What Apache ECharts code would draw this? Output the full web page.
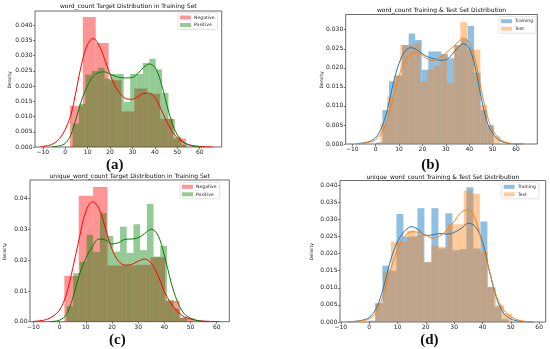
<!DOCTYPE html>
<html><head><meta charset="utf-8">
<script src="https://cdn.jsdelivr.net/npm/echarts@6/dist/echarts.min.js"></script>
<style>html,body{margin:0;padding:0;background:#fff}#c{width:550px;height:349px}</style>
</head><body><div id="c"></div>
<script>
// ---------- tick labels ----------
const xTicks = [-10, 0, 10, 20, 30, 40, 50, 60];
const yTicks3 = [0, 0.005, 0.010, 0.015, 0.020, 0.025, 0.030, 0.035, 0.040];
const yTicksB = [0, 0.005, 0.010, 0.015, 0.020, 0.025, 0.030];
const yTicksC = [0, 0.01, 0.02, 0.03, 0.04];

// ---------- titles ----------
const titleA = 'word_count Target Distribution in Training Set';
const titleB = 'word_count Training & Test Set Distribution';
const titleC = 'unique_word_count Target Distribution in Training Set';
const titleD = 'unique_word_count Training & Test Set Distribution';
const captions = ['(a)', '(b)', '(c)', '(d)'];

// ---------- panel (a): histograms (bin start, bin width, heights) ----------
const negStartA = 2.1, negWidthA = 5.75;
const negHistA = [0.0135, 0.0427, 0.0342, 0.0219, 0.0117, 0.0192, 0.0175, 0.0093, 0.0028];
const posStartA = 3.3, posWidthA = 2.85;
const posHistA = [0.0077, 0.0142, 0.0238, 0.0250, 0.0260, 0.0225, 0.0240, 0.0240, 0.0148, 0.0240, 0.0240, 0.0276, 0.0290, 0.0255, 0.0178, 0.0092, 0.0033, 0.0008];
// panel (a): KDE curves
const negKdeXA = [-11, -7.5, -5, -2.5, 0, 2.5, 5, 7.5, 10, 12.5, 15, 17.5, 20, 22.5, 25, 27.5, 30, 32.5, 35, 37.5, 40, 42.5, 45, 47.5, 50, 52.5, 55, 57.5, 60, 62.5, 66];
const negKdeA = [0.0001, 0.0005, 0.0012, 0.0028, 0.0058, 0.0105, 0.0190, 0.0280, 0.0338, 0.0357, 0.0335, 0.0290, 0.0238, 0.0197, 0.0171, 0.0158, 0.0157, 0.0166, 0.0176, 0.0177, 0.0162, 0.0128, 0.0088, 0.0054, 0.0030, 0.0016, 0.0008, 0.0004, 0.0002, 0.0001, 0];
const posKdeXA = [-6, -2.5, 0, 2.5, 5, 7.5, 10, 12.5, 15, 17.5, 20, 22.5, 25, 27.5, 30, 32.5, 35, 37.5, 40, 42.5, 45, 47.5, 50, 52.5, 55, 57.5, 61];
const posKdeA = [0.0001, 0.0004, 0.0012, 0.0040, 0.0098, 0.0158, 0.0203, 0.0233, 0.0245, 0.0247, 0.0240, 0.0232, 0.0228, 0.0227, 0.0229, 0.0242, 0.0262, 0.0273, 0.0262, 0.0218, 0.0148, 0.0082, 0.0040, 0.0018, 0.0007, 0.0002, 0];

// ---------- panel (b) ----------
const trainStartB = 0.1, trainWidthB = 2.8;
const trainHistB = [0.0004, 0.0089, 0.0165, 0.0180, 0.0260, 0.0290, 0.0273, 0.0195, 0.0243, 0.0243, 0.0236, 0.0225, 0.0260, 0.0275, 0.0310, 0.0187, 0.0089, 0.0050];
const testStartB = 2.0, testWidthB = 2.85;
const testHistB = [0.0054, 0.0125, 0.0179, 0.0260, 0.0260, 0.0265, 0.0165, 0.0195, 0.0205, 0.0235, 0.0158, 0.0260, 0.0320, 0.0248, 0.0248, 0.0102, 0.0045, 0.0020];
const kdeXB = [-8, -5, -2.5, 0, 2.5, 5, 7.5, 10, 12.5, 15, 17.5, 20, 22.5, 25, 27.5, 30, 32.5, 35, 37.5, 40, 42.5, 45, 47.5, 50, 52.5, 55, 57.5, 60, 63];
const trainKdeB = [0.0001, 0.0003, 0.0007, 0.0017, 0.0042, 0.0090, 0.0158, 0.0212, 0.0243, 0.0253, 0.0248, 0.0237, 0.0228, 0.0224, 0.0220, 0.0221, 0.0234, 0.0252, 0.0263, 0.0252, 0.0203, 0.0125, 0.0060, 0.0028, 0.0011, 0.0004, 0.0001, 0, 0];
const testKdeB = [0.0001, 0.0002, 0.0005, 0.0011, 0.0028, 0.0065, 0.0122, 0.0178, 0.0217, 0.0236, 0.0240, 0.0233, 0.0222, 0.0219, 0.0228, 0.0238, 0.0252, 0.0266, 0.0278, 0.0266, 0.0222, 0.0146, 0.0078, 0.0037, 0.0016, 0.0006, 0.0002, 0.0001, 0];

// ---------- panel (c) ----------
const negStartC = 1.8, negWidthC = 5.5;
const negHistC = [0.0149, 0.0410, 0.0438, 0.0183, 0.0183, 0.0185, 0.0210, 0.0068, 0.0012];
const posStartC = 2.6, posWidthC = 2.56;
const posHistC = [0.0050, 0.0158, 0.0195, 0.0283, 0.0227, 0.0353, 0.0279, 0.0228, 0.0309, 0.0224, 0.0317, 0.0233, 0.0383, 0.0212, 0.0247, 0.0070, 0.0043, 0.0014];
const negKdeXC = [-10, -7.5, -5, -2.5, 0, 2.5, 5, 7.5, 10, 12.5, 15, 17.5, 20, 22.5, 25, 27.5, 30, 32.5, 35, 37.5, 40, 42.5, 45, 47.5, 50, 52.5, 55, 57.5, 61];
const negKdeC = [0.0001, 0.0003, 0.0007, 0.0018, 0.0038, 0.0087, 0.0173, 0.0271, 0.0358, 0.0390, 0.0369, 0.0304, 0.0236, 0.0197, 0.0184, 0.0186, 0.0197, 0.0204, 0.0190, 0.0152, 0.0098, 0.0060, 0.0033, 0.0016, 0.0009, 0.0004, 0.0002, 0.0001, 0];
const posKdeXC = [-4, -2.5, 0, 2.5, 5, 7.5, 10, 12.5, 15, 17.5, 20, 22.5, 25, 27.5, 30, 32.5, 35, 37.5, 40, 42.5, 45, 47.5, 50, 52.5, 55, 57];
const posKdeC = [0, 0.0001, 0.0005, 0.0022, 0.0076, 0.0152, 0.0206, 0.0244, 0.0269, 0.0266, 0.0253, 0.0257, 0.0268, 0.0269, 0.0273, 0.0287, 0.0301, 0.0282, 0.0217, 0.0130, 0.0065, 0.0027, 0.0011, 0.0004, 0.0001, 0];

// ---------- panel (d) ----------
const trainStartD = -0.27, trainWidthD = 2.47;
const trainHistD = [0.0004, 0.0055, 0.0165, 0.0150, 0.0316, 0.0250, 0.0250, 0.0333, 0.0175, 0.0333, 0.0215, 0.0318, 0.0210, 0.0213, 0.0394, 0.0215, 0.0294, 0.0103, 0.0045, 0.0008];
const testStartD = 2.0, testWidthD = 2.85;
const testHistD = [0.0055, 0.0147, 0.0235, 0.0235, 0.0268, 0.0255, 0.0176, 0.0222, 0.0220, 0.0286, 0.0286, 0.0385, 0.0375, 0.0206, 0.0101, 0.0050, 0.0025];
const kdeXD = [-7.5, -5, -2.5, 0, 2.5, 5, 7.5, 10, 12.5, 15, 17.5, 20, 22.5, 25, 27.5, 30, 32.5, 35, 37.5, 40, 42.5, 45, 47.5, 50, 52.5, 55, 58];
const trainKdeD = [0.0001, 0.0002, 0.0005, 0.0013, 0.0040, 0.0099, 0.0179, 0.0235, 0.0266, 0.0279, 0.0269, 0.0253, 0.0255, 0.0259, 0.0257, 0.0262, 0.0274, 0.0289, 0.0279, 0.0235, 0.0147, 0.0069, 0.0025, 0.0009, 0.0003, 0.0001, 0];
const testKdeD = [0.0001, 0.0002, 0.0004, 0.0009, 0.0028, 0.0079, 0.0152, 0.0211, 0.0250, 0.0264, 0.0262, 0.0255, 0.0245, 0.0252, 0.0269, 0.0294, 0.0321, 0.0329, 0.0300, 0.0225, 0.0147, 0.0074, 0.0035, 0.0016, 0.0006, 0.0002, 0];

// ---------- build ----------
const RED = '#ff0000', GREEN = '#008000', BLUE = '#1f77b4', ORANGE = '#ff7f0e';
const REDA = 'rgba(255,0,0,0.42)', GREENA = 'rgba(0,128,0,0.42)', BLUEA = 'rgba(31,130,200,0.5)', ORANGEA = 'rgba(255,127,14,0.42)';

function bins(start, width, heights) {
  return heights.map((h, i) => [start + i * width, start + (i + 1) * width, h]);
}
function pairs(xs, ys) { return xs.map((x, i) => [x, ys[i]]); }

function histSeries(name, idx, data, color) {
  return {
    type: 'custom', name: name, xAxisIndex: idx, yAxisIndex: idx, data: data,
    encode: { x: [0, 1], y: 2 }, itemStyle: { color: color }, z: 2,
    renderItem: function (params, api) {
      const a = api.coord([api.value(0), api.value(2)]);
      const b = api.coord([api.value(1), 0]);
      return { type: 'rect', shape: { x: a[0], y: a[1], width: b[0] - a[0], height: b[1] - a[1] }, style: { fill: color } };
    }
  };
}
function kdeSeries(idx, data, color) {
  return {
    type: 'line', xAxisIndex: idx, yAxisIndex: idx, data: data, smooth: 0.35,
    symbol: 'none', silent: true, z: 3, lineStyle: { color: color, width: 1 }
  };
}

const grids = [
  { left: 35, top: 11, width: 186.7, height: 136 },
  { left: 345.7, top: 14.5, width: 191.6, height: 129.5 },
  { left: 30, top: 180, width: 199.3, height: 141.7 },
  { left: 340, top: 180.5, width: 205.7, height: 141.5 }
];
const xRanges = [[-13.5, 69.8], [-12.8, 69.1], [-11.3, 64.8], [-10.3, 62.3]];
const yMax = [0.0447, 0.0340, 0.0461, 0.0414];
const yTickSets = [yTicks3, yTicksB, yTicksC, yTicks3];
const yDigits = [3, 3, 2, 3];

const TXT = '#222', AX = '#444';
const xAxes = grids.map((g, i) => ({
  type: 'value', gridIndex: i, min: xRanges[i][0], max: xRanges[i][1],
  splitLine: { show: false }, axisLine: { show: false, onZero: false },
  axisTick: { show: true, length: 2, lineStyle: { color: AX, width: 0.7 }, customValues: xTicks },
  axisLabel: { customValues: xTicks, fontSize: 6, color: TXT, margin: 2.5, fontFamily: 'DejaVu Sans',
    formatter: v => v < 0 ? '\u2212' + Math.abs(v) : String(v) }
}));
const yAxes = grids.map((g, i) => ({
  type: 'value', gridIndex: i, min: 0, max: yMax[i],
  splitLine: { show: false }, axisLine: { show: false, onZero: false },
  axisTick: { show: true, length: 2, lineStyle: { color: AX, width: 0.7 }, customValues: yTickSets[i] },
  axisLabel: { customValues: yTickSets[i], fontSize: 6, color: TXT, margin: 2.5, fontFamily: 'DejaVu Sans',
    formatter: v => v.toFixed(yDigits[i]) }
}));

const series = [
  histSeries('Negative', 0, bins(negStartA, negWidthA, negHistA), REDA),
  histSeries('Positive', 0, bins(posStartA, posWidthA, posHistA), GREENA),
  kdeSeries(0, pairs(negKdeXA, negKdeA), RED),
  kdeSeries(0, pairs(posKdeXA, posKdeA), GREEN),
  histSeries('Training', 1, bins(trainStartB, trainWidthB, trainHistB), BLUEA),
  histSeries('Test', 1, bins(testStartB, testWidthB, testHistB), ORANGEA),
  kdeSeries(1, pairs(kdeXB, trainKdeB), BLUE),
  kdeSeries(1, pairs(kdeXB, testKdeB), ORANGE),
  histSeries('Negative', 2, bins(negStartC, negWidthC, negHistC), REDA),
  histSeries('Positive', 2, bins(posStartC, posWidthC, posHistC), GREENA),
  kdeSeries(2, pairs(negKdeXC, negKdeC), RED),
  kdeSeries(2, pairs(posKdeXC, posKdeC), GREEN),
  histSeries('Training', 3, bins(trainStartD, trainWidthD, trainHistD), BLUEA),
  histSeries('Test', 3, bins(testStartD, testWidthD, testHistD), ORANGEA),
  kdeSeries(3, pairs(kdeXD, trainKdeD), BLUE),
  kdeSeries(3, pairs(kdeXD, testKdeD), ORANGE)
];

function legend(left, top, names) {
  return {
    left: left, top: top, orient: 'vertical', data: names, icon: 'rect',
    itemWidth: 11, itemHeight: 4, itemGap: 2.5, selectedMode: false,
    padding: [2, 3, 2, 2], borderColor: '#cfcfcf', borderWidth: 0.6, borderRadius: 1.5,
    backgroundColor: 'rgba(255,255,255,0.8)',
    textStyle: { fontSize: 4.6, color: TXT, fontFamily: 'DejaVu Sans', padding: [0, 0, 0, -2] }
  };
}

function txt(x, y, text, font, rot) {
  return { type: 'text', x: x, y: y, rotation: rot || 0, silent: true,
    style: { text: text, font: font, fill: '#111', align: 'center', verticalAlign: 'middle' } };
}
const TF = '6px "DejaVu Sans"', YF = '4.5px "DejaVu Sans"', CF = 'bold 15px "Liberation Serif"';
const graphic = [
  txt(128.3, 6, titleA, TF), txt(441.5, 10.5, titleB, TF),
  txt(129.7, 176.5, titleC, TF), txt(442.8, 177, titleD, TF),
  txt(10, 80, 'Density', YF, Math.PI / 2), txt(322.3, 80, 'Density', YF, Math.PI / 2),
  txt(5, 251.7, 'Density', YF, Math.PI / 2), txt(311.7, 251.7, 'Density', YF, Math.PI / 2),
  txt(114.8, 165, captions[0], CF), txt(430.3, 165, captions[1], CF),
  txt(117.3, 340.5, captions[2], CF), txt(429.3, 340.5, captions[3], CF)
];

const chart = echarts.init(document.getElementById('c'), null, { renderer: 'canvas', width: 550, height: 349 });
chart.setOption({
  animation: false,
  backgroundColor: '#fff',
  grid: grids.map(g => Object.assign({ show: true, borderColor: AX, borderWidth: 0.8, backgroundColor: 'transparent' }, g)),
  xAxis: xAxes, yAxis: yAxes,
  legend: [
    legend(178, 13, ['Negative', 'Positive']),
    legend(499, 16.7, ['Training', 'Test']),
    legend(180, 182.3, ['Negative', 'Positive']),
    legend(501.7, 182.3, ['Training', 'Test'])
  ],
  series: series,
  graphic: graphic
});
</script></body></html>
